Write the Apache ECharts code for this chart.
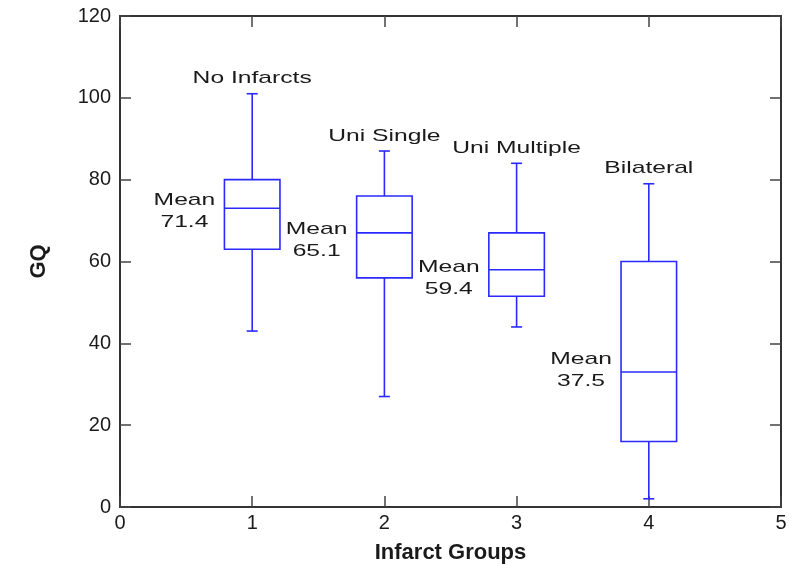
<!DOCTYPE html>
<html>
<head>
<meta charset="utf-8">
<script src="https://cdn.jsdelivr.net/npm/echarts@6/dist/echarts.min.js"></script>
<style>
  html, body { margin: 0; padding: 0; background: #fff; }
  #main { width: 792px; height: 565px; }
</style>
</head>
<body>
<div id="main"></div>
<script>
// group positions on the x axis and their names
const groups = [1, 2, 3, 4];
const groupNames = ['No Infarcts', 'Uni Single', 'Uni Multiple', 'Bilateral'];
// box plot values (GQ)
const whiskerLow = [43, 27, 44, 2];
const q1 = [63, 56, 51.5, 16];
const median = [73, 67, 58, 33];
const q3 = [80, 76, 67, 60];
const whiskerHigh = [101, 87, 84, 79];
const means = [71.4, 65.1, 59.4, 37.5];
// where the "Mean" text sits vertically (GQ units)
const meanLabelAt = [72.2, 65.2, 56, 33.5];

const xTicks = [0, 1, 2, 3, 4, 5];
const yTicks = [0, 20, 40, 60, 80, 100, 120];

const BLUE = '#2a2aff';
const AXIS = '#333';
const TXT = '#1a1a1a';
const FONT = 'Liberation Sans, Arial, sans-serif';
const STRETCH = 1.45; // text in the figure is drawn wide

var chart = echarts.init(document.getElementById('main'));

var rows = groups.map(function (g, i) {
  return [g, whiskerLow[i], q1[i], median[i], q3[i], whiskerHigh[i], means[i], meanLabelAt[i], i];
});

function renderBox(params, api) {
  var x = api.value(0);
  var i = api.value(8);
  var halfW = 0.21;
  var pLow = api.coord([x, api.value(1)]);
  var pQ1 = api.coord([x, api.value(2)]);
  var pMed = api.coord([x, api.value(3)]);
  var pQ3 = api.coord([x, api.value(4)]);
  var pHigh = api.coord([x, api.value(5)]);
  var left = api.coord([x - halfW, 0])[0];
  var right = api.coord([x + halfW, 0])[0];
  var cx = pMed[0];
  var cap = 5.5;
  var lineStyle = { stroke: BLUE, lineWidth: 1.6, fill: null };
  var labelY = api.coord([x, api.value(7)])[1];

  return {
    type: 'group',
    children: [
      { type: 'rect', shape: { x: left, y: pQ3[1], width: right - left, height: pQ1[1] - pQ3[1] }, style: lineStyle },
      { type: 'line', shape: { x1: left, y1: pMed[1], x2: right, y2: pMed[1] }, style: lineStyle },
      { type: 'line', shape: { x1: cx, y1: pQ3[1], x2: cx, y2: pHigh[1] }, style: lineStyle },
      { type: 'line', shape: { x1: cx, y1: pQ1[1], x2: cx, y2: pLow[1] }, style: lineStyle },
      { type: 'line', shape: { x1: cx - cap, y1: pHigh[1], x2: cx + cap, y2: pHigh[1] }, style: lineStyle },
      { type: 'line', shape: { x1: cx - cap, y1: pLow[1], x2: cx + cap, y2: pLow[1] }, style: lineStyle },
      {
        type: 'text', x: cx, y: pHigh[1] - 15, scaleX: STRETCH,
        style: { text: groupNames[i], x: 0, y: 0, align: 'center', verticalAlign: 'middle',
                 fill: TXT, font: '17px ' + FONT }
      },
      {
        type: 'text', x: left - 40, y: labelY, scaleX: STRETCH,
        style: { text: 'Mean\n' + api.value(6).toFixed(1), x: 0, y: 0, align: 'center', verticalAlign: 'middle',
                 lineHeight: 22, fill: TXT, font: '17px ' + FONT }
      }
    ]
  };
}

var tickStyle = { show: true, inside: true, length: 11, lineStyle: { color: '#444', width: 1.5 } };
var lineAx = { show: true, onZero: false, lineStyle: { color: AXIS, width: 2 } };

var option = {
  animation: false,
  backgroundColor: '#fff',
  grid: { left: 120, right: 11, top: 16, bottom: 58, containLabel: false, outerBoundsMode: 'none' },
  xAxis: [
    {
      type: 'value', min: 0, max: 5, interval: 1, position: 'bottom',
      axisLine: lineAx, axisTick: tickStyle, splitLine: { show: false },
      axisLabel: { margin: 6, color: TXT, fontSize: 20, fontFamily: FONT,
                   formatter: function (v) { return xTicks.indexOf(v) >= 0 ? String(v) : ''; } },
      name: 'Infarct Groups', nameLocation: 'middle', nameGap: 35,
      nameTextStyle: { fontSize: 22, fontWeight: 'bold', color: TXT, fontFamily: FONT }
    },
    {
      type: 'value', min: 0, max: 5, interval: 1, position: 'top',
      axisLine: lineAx, axisTick: tickStyle, splitLine: { show: false }, axisLabel: { show: false }
    }
  ],
  yAxis: [
    {
      type: 'value', min: 0, max: 120, interval: 20, position: 'left',
      axisLine: lineAx, axisTick: tickStyle, splitLine: { show: false },
      axisLabel: { margin: 9, color: TXT, fontSize: 20, fontFamily: FONT,
                   formatter: function (v) { return yTicks.indexOf(v) >= 0 ? String(v) : ''; } },
      name: 'GQ', nameLocation: 'middle', nameGap: 70, nameRotate: 90,
      nameTextStyle: { fontSize: 22, fontWeight: 'bold', color: TXT, fontFamily: FONT }
    },
    {
      type: 'value', min: 0, max: 120, interval: 20, position: 'right',
      axisLine: lineAx, axisTick: tickStyle, splitLine: { show: false }, axisLabel: { show: false }
    }
  ],
  series: [
    {
      type: 'custom',
      xAxisIndex: 0,
      yAxisIndex: 0,
      renderItem: renderBox,
      encode: { x: 0, y: [1, 5] },
      data: rows,
      clip: false,
      silent: true
    }
  ]
};

chart.setOption(option);
</script>
</body>
</html>
